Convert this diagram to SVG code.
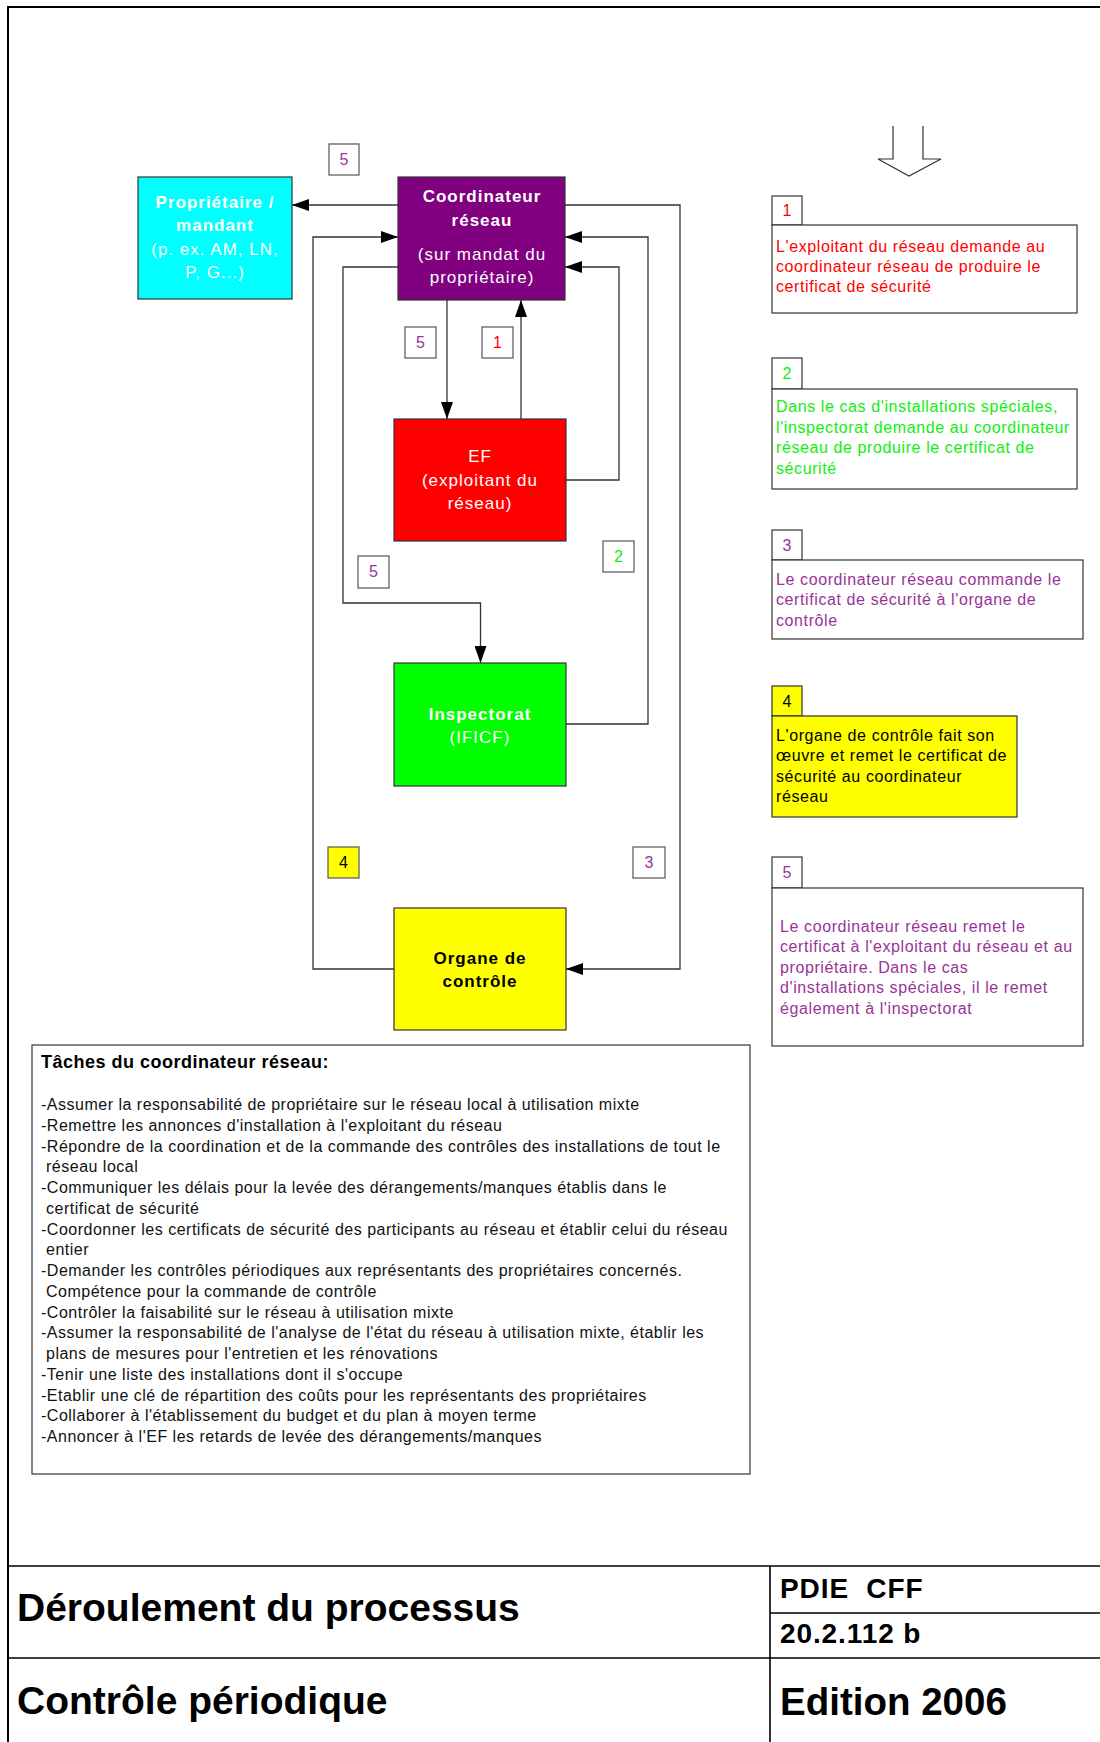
<svg xmlns="http://www.w3.org/2000/svg" width="1100" height="1742" viewBox="0 0 1100 1742">
<defs>
<marker id="ah" markerUnits="userSpaceOnUse" markerWidth="17" markerHeight="12" refX="17" refY="6" orient="auto">
<path d="M0,0 L17,6 L0,12 Z" fill="#000"/>
</marker>
</defs>
<style>
text{font-family:'Liberation Sans',Arial,sans-serif}
.frame{fill:none;stroke:#000;stroke-width:2}
.tb{stroke:#000;stroke-width:1.6;fill:none}
.node{stroke:#333;stroke-width:1.2}
.lbl{fill:#fff;stroke:#555;stroke-width:1.2}
.conn{fill:none;stroke:#333;stroke-width:1.3;marker-end:url(#ah)}
.nt{font-size:17px;fill:#fff;text-anchor:middle;letter-spacing:1px}
.nb{font-weight:bold}
.num{font-size:16px;text-anchor:middle}
.bt{font-size:16px;letter-spacing:0.6px}
.lt{font-size:16px;letter-spacing:0.5px;fill:#111}
.red{fill:#ff0000}
.grn{fill:#11ee11}
.pur{fill:#993399}
.blk{fill:#000}
.box{fill:#fff;stroke:#333;stroke-width:1.2}
.ybox{fill:#ffff00;stroke:#333;stroke-width:1.2}
.tt{font-weight:bold;fill:#000}
</style>
<rect width="1100" height="1742" fill="#fff"/>
<path class="frame" d="M8,1742 V7 H1100"/>

<g id="connectors">
<path class="conn" d="M398,205 H292"/>
<path class="conn" d="M565,205 H680 V969 H566"/>
<path class="conn" d="M394,969 H313 V237 H398"/>
<path class="conn" d="M398,267 H343 V603 H480.5 V663"/>
<path class="conn" d="M566,724 H648 V237 H565"/>
<path class="conn" d="M566,480 H619 V267 H565"/>
<path class="conn" d="M447,300 V419"/>
<path class="conn" d="M521,419 V300"/>
</g>

<g id="node-proprietaire">
<rect class="node" x="138" y="177" width="154" height="122" fill="#00ffff"/>
<text class="nt nb" x="215" y="208">Propriétaire /</text>
<text class="nt nb" x="215" y="231">mandant</text>
<text class="nt" x="215" y="255">(p. ex. AM, LN,</text>
<text class="nt" x="215" y="278">P, G...)</text>
</g>

<g id="node-coordinateur">
<rect class="node" x="398" y="177" width="167" height="123" fill="#800080"/>
<text class="nt nb" x="482" y="202">Coordinateur</text>
<text class="nt nb" x="482" y="226">réseau</text>
<text class="nt" x="482" y="260">(sur mandat du</text>
<text class="nt" x="482" y="283">propriétaire)</text>
</g>

<g id="node-ef">
<rect class="node" x="394" y="419" width="172" height="122" fill="#ff0000"/>
<text class="nt" x="480" y="462">EF</text>
<text class="nt" x="480" y="486">(exploitant du</text>
<text class="nt" x="480" y="509">réseau)</text>
</g>

<g id="node-inspectorat">
<rect class="node" x="394" y="663" width="172" height="123" fill="#00ff00"/>
<text class="nt nb" x="480" y="720">Inspectorat</text>
<text class="nt" x="480" y="743">(IFICF)</text>
</g>

<g id="node-organe">
<rect class="node" x="394" y="908" width="172" height="122" fill="#ffff00"/>
<text class="nt nb" x="480" y="964" style="fill:#000">Organe de</text>
<text class="nt nb" x="480" y="987" style="fill:#000">contrôle</text>
</g>

<g id="labels">
<rect class="lbl" x="329" y="144" width="30" height="31"/>
<text class="num pur" x="344" y="165">5</text>
<rect class="lbl" x="405" y="327" width="31" height="31"/>
<text class="num pur" x="420.5" y="348">5</text>
<rect class="lbl" x="482" y="327" width="31" height="31"/>
<text class="num red" x="497.5" y="348">1</text>
<rect class="lbl" x="358" y="556" width="31" height="32"/>
<text class="num pur" x="373.5" y="577">5</text>
<rect class="lbl" x="603" y="541" width="31" height="31"/>
<text class="num grn" x="618.5" y="562">2</text>
<rect class="lbl" x="328" y="847" width="31" height="31" style="fill:#ffff00"/>
<text class="num blk" x="343.5" y="868">4</text>
<rect class="lbl" x="633" y="847" width="32" height="31"/>
<text class="num pur" x="649" y="868">3</text>
</g>

<g id="flow-arrow">
<path d="M893,126 V159 H878 L909,176 L941,159 H923 V126" fill="#fff" stroke="#333" stroke-width="1.2"/>
</g>

<g id="legend-1">
<rect class="box" x="772" y="196" width="30" height="29"/>
<text class="num red" x="787" y="216">1</text>
<rect class="box" x="772" y="225" width="305" height="88"/>
<text class="bt red" x="776" y="252">L'exploitant du réseau demande au</text>
<text class="bt red" x="776" y="272">coordinateur réseau de produire le</text>
<text class="bt red" x="776" y="292">certificat de sécurité</text>
</g>

<g id="legend-2">
<rect class="box" x="772" y="358" width="30" height="31"/>
<text class="num grn" x="787" y="379">2</text>
<rect class="box" x="772" y="389" width="305" height="100"/>
<text class="bt grn" x="776" y="412">Dans le cas d'installations spéciales,</text>
<text class="bt grn" x="776" y="432.5">l'inspectorat demande au coordinateur</text>
<text class="bt grn" x="776" y="453">réseau de produire le certificat de</text>
<text class="bt grn" x="776" y="473.5">sécurité</text>
</g>

<g id="legend-3">
<rect class="box" x="772" y="530" width="30" height="30"/>
<text class="num pur" x="787" y="551">3</text>
<rect class="box" x="772" y="560" width="311" height="79"/>
<text class="bt pur" x="776" y="584.5">Le coordinateur réseau commande le</text>
<text class="bt pur" x="776" y="605">certificat de sécurité à l'organe de</text>
<text class="bt pur" x="776" y="625.5">contrôle</text>
</g>

<g id="legend-4">
<rect class="ybox" x="772" y="686" width="30" height="30"/>
<text class="num blk" x="787" y="707">4</text>
<rect class="ybox" x="772" y="716" width="245" height="101"/>
<text class="bt blk" x="776" y="740.5">L'organe de contrôle fait son</text>
<text class="bt blk" x="776" y="761">œuvre et remet le certificat de</text>
<text class="bt blk" x="776" y="781.5">sécurité au coordinateur</text>
<text class="bt blk" x="776" y="802">réseau</text>
</g>

<g id="legend-5">
<rect class="box" x="772" y="857" width="30" height="31"/>
<text class="num pur" x="787" y="878">5</text>
<rect class="box" x="772" y="888" width="311" height="158"/>
<text class="bt pur" x="780" y="931.5">Le coordinateur réseau remet le</text>
<text class="bt pur" x="780" y="952">certificat à l'exploitant du réseau et au</text>
<text class="bt pur" x="780" y="972.5">propriétaire. Dans le cas</text>
<text class="bt pur" x="780" y="993">d'installations spéciales, il le remet</text>
<text class="bt pur" x="780" y="1013.5">également à l'inspectorat</text>
</g>

<g id="taches">
<rect class="box" x="32" y="1045" width="718" height="429"/>
<text x="41" y="1068" style="font-size:18px;font-weight:bold;fill:#000;letter-spacing:0.5px">Tâches du coordinateur réseau:</text>
<text class="lt" x="41" y="1110">-Assumer la responsabilité de propriétaire sur le réseau local à utilisation mixte</text>
<text class="lt" x="41" y="1130.75">-Remettre les annonces d'installation à l'exploitant du réseau</text>
<text class="lt" x="41" y="1151.5">-Répondre de la coordination et de la commande des contrôles des installations de tout le</text>
<text class="lt" x="46" y="1172.25">réseau local</text>
<text class="lt" x="41" y="1193">-Communiquer les délais pour la levée des dérangements/manques établis dans le</text>
<text class="lt" x="46" y="1213.75">certificat de sécurité</text>
<text class="lt" x="41" y="1234.5">-Coordonner les certificats de sécurité des participants au réseau et établir celui du réseau</text>
<text class="lt" x="46" y="1255.25">entier</text>
<text class="lt" x="41" y="1276">-Demander les contrôles périodiques aux représentants des propriétaires concernés.</text>
<text class="lt" x="46" y="1296.75">Compétence pour la commande de contrôle</text>
<text class="lt" x="41" y="1317.5">-Contrôler la faisabilité sur le réseau à utilisation mixte</text>
<text class="lt" x="41" y="1338.25">-Assumer la responsabilité de l'analyse de l'état du réseau à utilisation mixte, établir les</text>
<text class="lt" x="46" y="1359">plans de mesures pour l'entretien et les rénovations</text>
<text class="lt" x="41" y="1379.75">-Tenir une liste des installations dont il s'occupe</text>
<text class="lt" x="41" y="1400.5">-Etablir une clé de répartition des coûts pour les représentants des propriétaires</text>
<text class="lt" x="41" y="1421.25">-Collaborer à l'établissement du budget et du plan à moyen terme</text>
<text class="lt" x="41" y="1442">-Annoncer à l'EF les retards de levée des dérangements/manques</text>
</g>

<g id="title-block">
<path class="tb" d="M8,1566 H1100 M8,1658 H1100 M770,1566 V1742 M770,1613 H1100"/>
<text class="tt" x="17" y="1621" style="font-size:39px">Déroulement du processus</text>
<text class="tt" x="17" y="1714" style="font-size:39px">Contrôle périodique</text>
<text class="tt" x="780" y="1598" xml:space="preserve" style="font-size:28px;letter-spacing:0.9px;white-space:pre">PDIE  CFF</text>
<text class="tt" x="780" y="1643" style="font-size:28px;letter-spacing:0.9px">20.2.112 b</text>
<text class="tt" x="780" y="1715" style="font-size:38.5px">Edition 2006</text>
</g>
</svg>
